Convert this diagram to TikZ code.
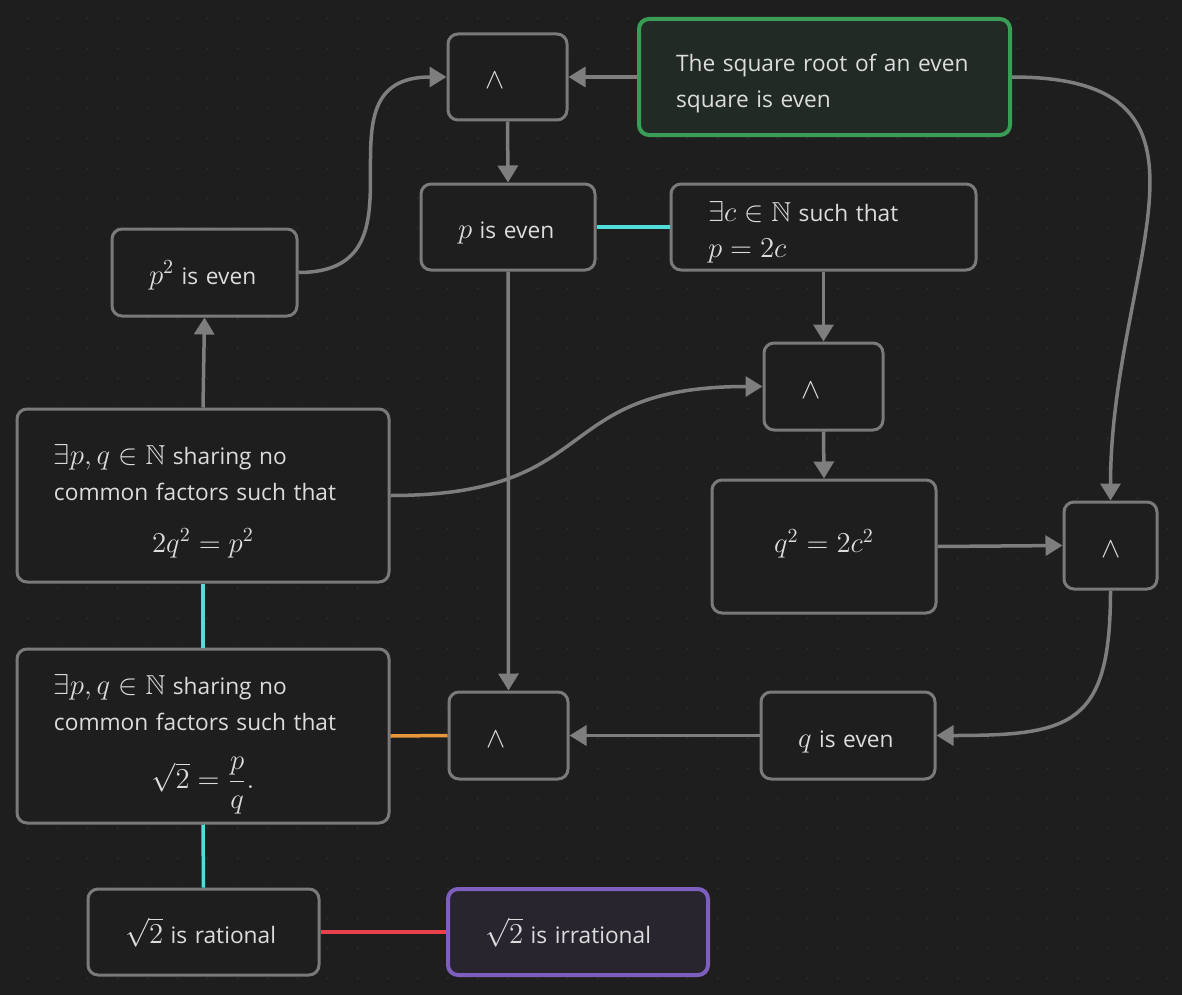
\documentclass[tikz,border=0pt]{standalone}
\usepackage{amsmath}
\usepackage{amssymb}
\usepackage{fontspec}
\setmainfont{Open Sans}
\usetikzlibrary{arrows.meta}

\definecolor{canvasbg}{HTML}{1E1E1E}
\definecolor{canvasdot}{HTML}{313131}
\definecolor{cardline}{HTML}{7A7A7A}
\definecolor{cardfill}{HTML}{1E1E1E}
\definecolor{cardtext}{HTML}{DCDCDC}
\definecolor{edgegray}{HTML}{7E7E7E}
\definecolor{greenline}{HTML}{3A9D56}
\definecolor{greenfill}{HTML}{212A24}
\definecolor{purpleline}{HTML}{7E5FBE}
\definecolor{purplefill}{HTML}{28252F}
\definecolor{cyanline}{HTML}{53DCDC}
\definecolor{orangeline}{HTML}{E8963A}
\definecolor{redline}{HTML}{E9414B}

\newcommand{\km}[1]{{\fontsize{13.7pt}{18pt}\selectfont$#1$}}

\tikzset{
	card/.style={draw=cardline, fill=cardfill, line width=1.5pt, rounded corners=5pt,
		text=cardtext, font=\fontsize{11.35pt}{18pt}\selectfont, align=left,
		inner xsep=18.5pt, inner ysep=0pt, minimum width=#1, text width=#1-37pt},
	oneline/.style={text height=14pt, text depth=2.5pt},
	twoline/.style={text height=12pt, text depth=17.5pt},
	link/.style={draw=edgegray, line width=1.75pt, -{Triangle[length=8.5pt, width=10pt]}},
	tie/.style={line width=1.75pt},
}

\begin{document}
\begin{tikzpicture}[x=0.5pt, y=-0.5pt]
			%%%%% CANVAS %%%%%
			
			\useasboundingbox (0,0) rectangle (1182,995);
			\fill[canvasbg] (0,0) rectangle (1182,995);
			\foreach \i in {0,...,38}
				\foreach \j in {0,...,32}
					\fill[canvasdot] (27.7+30*\i, 18.3+30*\j) circle (1);
			
			%%%%% CARDS %%%%%
			
			\node[card=59.5pt, minimum height=43pt, oneline] (and1) at (507.5,77) {\km{\wedge}};
			\node[card=185.5pt, minimum height=58pt, twoline, draw=greenline, fill=greenfill, line width=2pt] (rootfact) at (824.5,77)
				{The square root of an even\\ square is even};
			\node[card=92.5pt, minimum height=43.5pt, oneline] (p2even) at (204.5,272.5) {\km{p^2} is even};
			\node[card=87pt, minimum height=43pt, oneline] (peven) at (508,227) {\km{p} is even};
			\node[card=152.5pt, minimum height=43pt, twoline] (existsc) at (823.5,227)
				{\km{\exists c\in\mathbb{N}} such that\\ \km{p=2c}};
			\node[card=59.5pt, minimum height=43.5pt, oneline] (and2) at (823.5,386.5) {\km{\wedge}};
			\node[card=112pt, minimum height=66.5pt, text height=10.5pt, text depth=4.25pt] (q2) at (824,546.5)
				{\makebox[\linewidth]{\km{q^2=2c^2}}};
			\node[card=46.5pt, minimum height=43.5pt, oneline] (and3) at (1110.5,545.5) {\km{\wedge}};
			\node[card=186pt, minimum height=86.5pt, text height=12pt, text depth=43pt] (exists1) at (203,495.5)
				{\km{\exists p,q\in\mathbb{N}} sharing no\\ common factors such that\\[7.75pt]
				\makebox[\linewidth]{\km{2q^2=p^2}}};
			\node[card=186pt, minimum height=87pt, text height=12pt, text depth=53.5pt] (exists2) at (203,736)
				{\km{\exists p,q\in\mathbb{N}} sharing no\\ common factors such that\\[11pt]
				\makebox[\linewidth]{\km{\sqrt{2}=\dfrac{p}{q}.}}};
			\node[card=59.5pt, minimum height=43.5pt, oneline] (and4) at (508.5,735.5) {\km{\wedge}};
			\node[card=87pt, minimum height=43.5pt, oneline] (qeven) at (848,735.5) {\km{q} is even};
			\node[card=115.5pt, minimum height=43pt, oneline] (rational) at (203.5,932) {\km{\sqrt{2}} is rational};
			\node[card=130pt, minimum height=43pt, oneline, draw=purpleline, fill=purplefill, line width=2pt] (irrational) at (578,932)
				{\km{\sqrt{2}} is irrational};
			
			%%%%% EDGES %%%%%
			
			\draw[link] (p2even.east) .. controls +(140,0) and +(-140,0) .. (and1.west);
			\draw[link] (rootfact.west) -- (and1.east);
			\draw[link] (and1.south) -- (peven.north);
			\draw[tie, cyanline] (peven.east) -- (existsc.west);
			\draw[link] (existsc.south) -- (and2.north);
			\draw[link] (exists1.east) .. controls +(215,0) and +(-215,0) .. (and2.west);
			\draw[link] (and2.south) -- (q2.north);
			\draw[link] (q2.east) -- (and3.west);
			\draw[link] (rootfact.east) .. controls +(235,0) and +(0,-235) .. (and3.north);
			\draw[link] (and3.south) .. controls +(0,135) and +(135,0) .. (qeven.east);
			\draw[link] (qeven.west) -- (and4.east);
			\draw[link] (peven.south) -- (and4.north);
			\draw[tie, orangeline] (exists2.east) -- (and4.west);
			\draw[link] (exists1.north) -- (p2even.south);
			\draw[tie, cyanline] (exists1.south) -- (exists2.north);
			\draw[tie, cyanline] (exists2.south) -- (rational.north);
			\draw[tie, redline] (rational.east) -- (irrational.west);
			
			%%%%% END %%%%%
\end{tikzpicture}
\end{document}
